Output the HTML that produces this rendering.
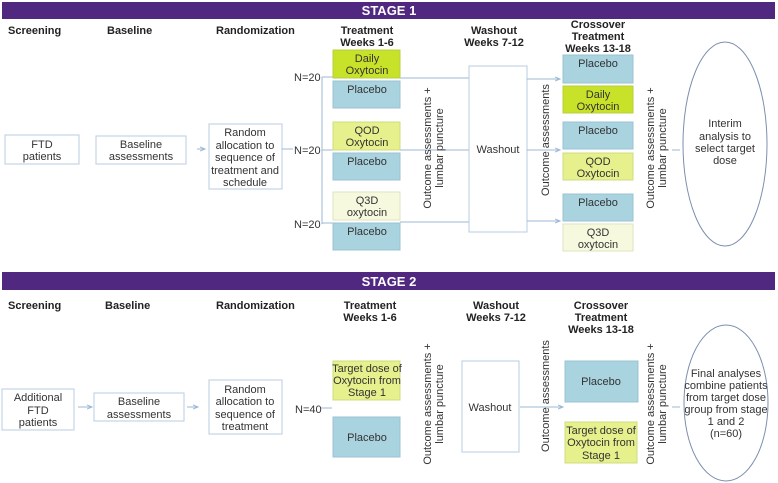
<!DOCTYPE html>
<html><head><meta charset="utf-8"><style>
html,body{margin:0;padding:0;background:#fff;}
svg{display:block;font-family:"Liberation Sans",Arial,sans-serif;}
.h{font-weight:bold;font-size:11px;fill:#222;}
.t{font-size:11px;fill:#333;}
.w{fill:#fff;stroke:#b9cde0;stroke-width:1;}
.pl{fill:#a9d3df;stroke:#9cc3d4;}
.g1{fill:#c8e22a;stroke:#b9cf40;}
.g2{fill:#e6f08c;stroke:#cfdc80;}
.g3{fill:#f7f9de;stroke:#dfe3c0;}
.ln{stroke:#9cb8d6;stroke-width:1;fill:none;}
</style></head><body>
<svg width="778" height="483" viewBox="0 0 778 483">
<defs><marker id="a" markerWidth="6" markerHeight="6" refX="5" refY="3" orient="auto"><path d="M0,1 L5,3 L0,5" fill="none" stroke="#9cb8d6"/></marker></defs>
<!-- STAGE 1 -->
<rect x="2" y="2" width="773" height="17" fill="#50287f"/>
<text x="389" y="15" text-anchor="middle" fill="#fff" font-weight="bold" font-size="13">STAGE 1</text>
<g class="h">
<text x="8" y="34">Screening</text>
<text x="107" y="34">Baseline</text>
<text x="216" y="34">Randomization</text>
<text x="367" y="34" text-anchor="middle">Treatment</text>
<text x="367" y="46" text-anchor="middle">Weeks 1-6</text>
<text x="494" y="34" text-anchor="middle">Washout</text>
<text x="494" y="46" text-anchor="middle">Weeks 7-12</text>
<text x="598" y="28" text-anchor="middle">Crossover</text>
<text x="598" y="40" text-anchor="middle">Treatment</text>
<text x="598" y="52" text-anchor="middle">Weeks 13-18</text>
</g>
<rect class="w" x="5" y="135" width="74" height="29"/>
<text class="t" text-anchor="middle"><tspan x="42" y="148">FTD</tspan><tspan x="42" y="160">patients</tspan></text>
<rect class="w" x="96" y="136" width="90" height="28"/>
<text class="t" text-anchor="middle"><tspan x="141" y="148">Baseline</tspan><tspan x="141" y="160">assessments</tspan></text>
<line class="ln" x1="197" y1="149" x2="205" y2="149" marker-end="url(#a)"/>
<rect class="w" x="209" y="124" width="73" height="65"/>
<text class="t" text-anchor="middle"><tspan x="245" y="136">Random</tspan><tspan x="245" y="149">allocation to</tspan><tspan x="245" y="161">sequence of</tspan><tspan x="245" y="174">treatment and</tspan><tspan x="245" y="186">schedule</tspan></text>
<line class="ln" x1="282" y1="149" x2="293" y2="149"/>
<text class="t" x="294" y="81">N=20</text>
<text class="t" x="294" y="154">N=20</text>
<text class="t" x="294" y="228">N=20</text>
<path class="ln" d="M322,77 V224 M322,77 H333 M322,150 H333 M322,223 H333"/>
<rect class="g1" x="333" y="50" width="67" height="28"/>
<text class="t" text-anchor="middle"><tspan x="367" y="62">Daily</tspan><tspan x="367" y="74">Oxytocin</tspan></text>
<rect class="pl" x="333" y="81" width="67" height="27"/><text class="t" x="367" y="93" text-anchor="middle">Placebo</text>
<rect class="g2" x="333" y="122" width="67" height="28"/>
<text class="t" text-anchor="middle"><tspan x="367" y="134">QOD</tspan><tspan x="367" y="146">Oxytocin</tspan></text>
<rect class="pl" x="333" y="153" width="67" height="27"/><text class="t" x="367" y="165" text-anchor="middle">Placebo</text>
<rect class="g3" x="333" y="192" width="67" height="28"/>
<text class="t" text-anchor="middle"><tspan x="367" y="204">Q3D</tspan><tspan x="367" y="216">oxytocin</tspan></text>
<rect class="pl" x="333" y="223" width="67" height="27"/><text class="t" x="367" y="235" text-anchor="middle">Placebo</text>
<path class="ln" d="M400,78 H469 M400,150 H469 M400,222 H469"/>
<text class="t" text-anchor="middle" transform="translate(431,148) rotate(-90)"><tspan x="0" y="0">Outcome assessments +</tspan><tspan x="0" y="12">lumbar puncture</tspan></text>
<rect class="w" x="469" y="66" width="58" height="166"/>
<text class="t" x="498" y="153" text-anchor="middle">Washout</text>
<line class="ln" x1="527" y1="79" x2="560" y2="79" marker-end="url(#a)"/>
<line class="ln" x1="527" y1="150" x2="560" y2="150" marker-end="url(#a)"/>
<line class="ln" x1="527" y1="221" x2="560" y2="221" marker-end="url(#a)"/>
<text class="t" text-anchor="middle" transform="translate(549,140) rotate(-90)">Outcome assessments</text>
<rect class="pl" x="563" y="55" width="70" height="28"/><text class="t" x="598" y="67" text-anchor="middle">Placebo</text>
<rect class="g1" x="563" y="86" width="70" height="27"/>
<text class="t" text-anchor="middle"><tspan x="598" y="98">Daily</tspan><tspan x="598" y="110">Oxytocin</tspan></text>
<rect class="pl" x="563" y="122" width="70" height="27"/><text class="t" x="598" y="134" text-anchor="middle">Placebo</text>
<rect class="g2" x="563" y="153" width="70" height="27"/>
<text class="t" text-anchor="middle"><tspan x="598" y="165">QOD</tspan><tspan x="598" y="177">Oxytocin</tspan></text>
<rect class="pl" x="563" y="194" width="70" height="27"/><text class="t" x="598" y="206" text-anchor="middle">Placebo</text>
<rect class="g3" x="563" y="224" width="70" height="27"/>
<text class="t" text-anchor="middle"><tspan x="598" y="236">Q3D</tspan><tspan x="598" y="248">oxytocin</tspan></text>
<text class="t" text-anchor="middle" transform="translate(654,148) rotate(-90)"><tspan x="0" y="0">Outcome assessments +</tspan><tspan x="0" y="12">lumbar puncture</tspan></text>
<line class="ln" x1="672" y1="150" x2="680" y2="150"/>
<ellipse cx="725" cy="144" rx="42" ry="102" fill="#fff" stroke="#7d8fb0"/>
<text class="t" text-anchor="middle"><tspan x="725" y="127">Interim</tspan><tspan x="725" y="140">analysis to</tspan><tspan x="725" y="152">select target</tspan><tspan x="725" y="164">dose</tspan></text>

<!-- STAGE 2 -->
<rect x="2" y="272" width="773" height="18" fill="#50287f"/>
<text x="389" y="286" text-anchor="middle" fill="#fff" font-weight="bold" font-size="13">STAGE 2</text>
<g class="h">
<text x="8" y="309">Screening</text>
<text x="105" y="309">Baseline</text>
<text x="216" y="309">Randomization</text>
<text x="370" y="309" text-anchor="middle">Treatment</text>
<text x="370" y="321" text-anchor="middle">Weeks 1-6</text>
<text x="496" y="309" text-anchor="middle">Washout</text>
<text x="496" y="321" text-anchor="middle">Weeks 7-12</text>
<text x="601" y="309" text-anchor="middle">Crossover</text>
<text x="601" y="321" text-anchor="middle">Treatment</text>
<text x="601" y="333" text-anchor="middle">Weeks 13-18</text>
</g>
<rect class="w" x="2" y="389" width="72" height="41"/>
<text class="t" text-anchor="middle"><tspan x="38" y="401">Additional</tspan><tspan x="38" y="414">FTD</tspan><tspan x="38" y="426">patients</tspan></text>
<line class="ln" x1="78" y1="407" x2="92" y2="407" marker-end="url(#a)"/>
<rect class="w" x="94" y="393" width="90" height="28"/>
<text class="t" text-anchor="middle"><tspan x="139" y="405">Baseline</tspan><tspan x="139" y="418">assessments</tspan></text>
<line class="ln" x1="187" y1="407" x2="198" y2="407" marker-end="url(#a)"/>
<rect class="w" x="209" y="380" width="73" height="54"/>
<text class="t" text-anchor="middle"><tspan x="245" y="393">Random</tspan><tspan x="245" y="405">allocation to</tspan><tspan x="245" y="418">sequence of</tspan><tspan x="245" y="430">treatment</tspan></text>
<text class="t" x="295" y="413">N=40</text>
<line class="ln" x1="321" y1="408" x2="332" y2="408"/>
<rect class="g2" x="333" y="361" width="67" height="39"/>
<text class="t" text-anchor="middle"><tspan x="367" y="372">Target dose of</tspan><tspan x="367" y="384">Oxytocin from</tspan><tspan x="367" y="396">Stage 1</tspan></text>
<rect class="pl" x="333" y="417" width="67" height="40"/><text class="t" x="367" y="441" text-anchor="middle">Placebo</text>
<text class="t" text-anchor="middle" transform="translate(431,404) rotate(-90)"><tspan x="0" y="0">Outcome assessments +</tspan><tspan x="0" y="12">lumbar puncture</tspan></text>
<rect class="w" x="462" y="361" width="57" height="91"/>
<text class="t" x="490" y="411" text-anchor="middle">Washout</text>
<line class="ln" x1="520" y1="407" x2="563" y2="407" marker-end="url(#a)"/>
<text class="t" text-anchor="middle" transform="translate(549,396) rotate(-90)">Outcome assessments</text>
<rect class="pl" x="565" y="361" width="73" height="41"/><text class="t" x="601" y="385" text-anchor="middle">Placebo</text>
<rect class="g2" x="565" y="422" width="72" height="41"/>
<text class="t" text-anchor="middle"><tspan x="601" y="434">Target dose of</tspan><tspan x="601" y="446">Oxytocin from</tspan><tspan x="601" y="459">Stage 1</tspan></text>
<text class="t" text-anchor="middle" transform="translate(654,404) rotate(-90)"><tspan x="0" y="0">Outcome assessments +</tspan><tspan x="0" y="12">lumbar puncture</tspan></text>
<line class="ln" x1="672" y1="407" x2="680" y2="407"/>
<ellipse cx="726" cy="403" rx="42" ry="78" fill="#fff" stroke="#7d8fb0"/>
<text class="t" text-anchor="middle"><tspan x="726" y="377">Final  analyses</tspan><tspan x="726" y="389">combine patients</tspan><tspan x="726" y="401">from target dose</tspan><tspan x="726" y="413">group from stage</tspan><tspan x="726" y="425">1 and 2</tspan><tspan x="726" y="437">(n=60)</tspan></text>
</svg>
</body></html>
